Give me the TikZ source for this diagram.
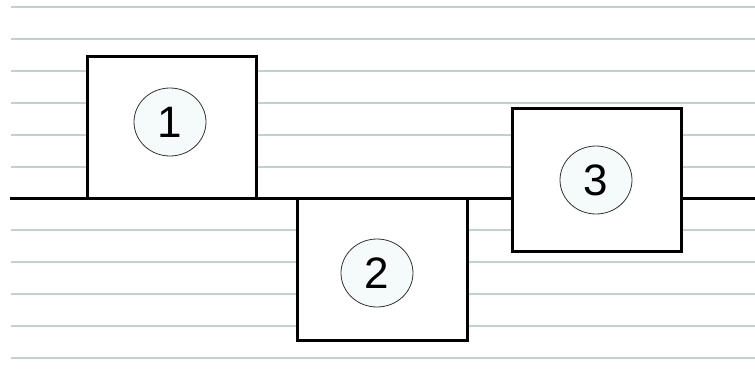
\documentclass[tikz,border=0pt]{standalone}
\usepackage{fontspec}
\setmainfont{Liberation Sans}
\usepackage{xcolor}
\usetikzlibrary{shapes.geometric, positioning}
\definecolor{rulegrey}{HTML}{C2D2CB}
\definecolor{discfill}{HTML}{F5FAFA}

\begin{document}
\begin{tikzpicture}[x=1pt, y=-1pt,
    rule/.style={draw=rulegrey, line width=2pt},
    wire/.style={draw=black, line width=3pt},
    stage/.style={rectangle, draw, line width=3pt, fill=white, inner sep=0pt},
    tag/.style={ellipse, draw=black!80, line width=0.8pt, fill=discfill, minimum width=72pt, minimum height=68pt, inner sep=0pt, font=\fontsize{44}{44}\selectfont}
]
\useasboundingbox (0,0) rectangle (755,389);
\foreach \y in {7,39,71,103,135,167,230,262,294,326,358}
    \draw[rule] (11,\y) -- (755,\y);

\coordinate (wstart) at (10,198);
\coordinate (wend) at (755,198);
\draw[wire] (wstart) -- (wend);

\node[stage, minimum width=169pt, minimum height=142pt] (box1) at (171.5,127) {};
\node[stage, minimum width=170pt, minimum height=142pt] (box2) at (382,269) {};
\node[stage, minimum width=169pt, minimum height=143pt] (box3) at (596.5,179.5) {};

\node[tag] (tag1) at (170,122) {1};
\node[tag] (tag2) at (377,273) {2};
\node[tag] (tag3) at (596,180) {3};
\end{tikzpicture}
\end{document}
